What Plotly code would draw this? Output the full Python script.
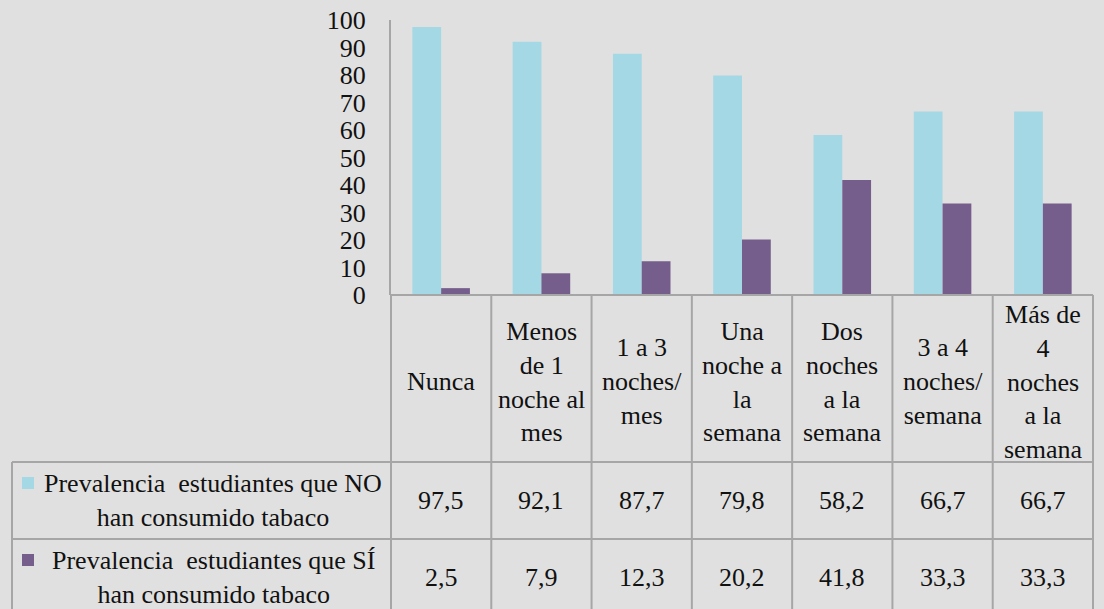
import plotly.graph_objects as go

# Frequency of going out at night
categorias = [
    "Nunca",
    "Menos<br>de 1<br>noche al<br>mes",
    "1 a 3<br>noches/<br>mes",
    "Una<br>noche a<br>la<br>semana",
    "Dos<br>noches<br>a la<br>semana",
    "3 a 4<br>noches/<br>semana",
    "Más de<br>4<br>noches<br>a la<br>semana",
]
serie_no = [97.5, 92.1, 87.7, 79.8, 58.2, 66.7, 66.7]
serie_si = [2.5, 7.9, 12.3, 20.2, 41.8, 33.3, 33.3]
nombres = [
    "Prevalencia  estudiantes que NO<br>han consumido tabaco",
    "Prevalencia  estudiantes que SÍ<br>han consumido tabaco",
]
y_ticks = [0, 10, 20, 30, 40, 50, 60, 70, 80, 90, 100]

W, H = 1104, 609
BG = "#E0E0E0"
AZUL = "#A5D8E5"
MORADO = "#765E8C"
LINEA = "#A6A6A6"
FUENTE = "Times New Roman"
TINTA = "#111111"


def px(x):
    return x / W


def py(y):
    return 1 - y / H


# layout geometry (pixels)
X0, X1 = 391, 1093          # plot / table columns
Y_TOP, Y_ZERO = 20, 295     # value axis
Y_R1, Y_R2, Y_END = 462, 539, 616
X_LEFT = 12

fig = go.Figure()
fig.add_trace(go.Bar(x=categorias, y=serie_no, name=nombres[0], marker_color=AZUL,
                     marker_line_width=0))
fig.add_trace(go.Bar(x=categorias, y=serie_si, name=nombres[1], marker_color=MORADO,
                     marker_line_width=0))

ncat = len(categorias)
col_w = (X1 - X0) / ncat
shapes = []


def line(x0, y0, x1, y1):
    shapes.append(dict(type="line", xref="paper", yref="paper",
                       x0=px(x0), y0=py(y0), x1=px(x1), y1=py(y1),
                       line=dict(color=LINEA, width=2)))


# table grid
line(X0, Y_ZERO, X1, Y_ZERO)
line(X_LEFT, Y_R1, X1, Y_R1)
line(X_LEFT, Y_R2, X1, Y_R2)
line(X_LEFT, Y_R1, X_LEFT, Y_END)
line(X0, Y_ZERO, X0, Y_END)
for i in range(1, ncat + 1):
    xc = X0 + col_w * i
    line(xc, Y_ZERO, xc, Y_END)

# legend keys inside the row headers
for color, yk in [(AZUL, 477), (MORADO, 554)]:
    shapes.append(dict(type="rect", xref="paper", yref="paper",
                       x0=px(22), x1=px(34), y0=py(yk), y1=py(yk + 12),
                       fillcolor=color, line=dict(width=0)))

annotations = []

# column headers
for c in categorias:
    annotations.append(dict(x=c, xref="x", y=py((Y_ZERO + Y_R1) / 2 + 3), yref="paper",
                            text=c, showarrow=False,
                            font=dict(family=FUENTE, size=26, color=TINTA),
                            align="center", xanchor="center", yanchor="middle"))

# data rows
for serie, (ya, yb) in zip([serie_no, serie_si], [(Y_R1, Y_R2), (Y_R2, Y_END)]):
    for c, v in zip(categorias, serie):
        annotations.append(dict(x=c, xref="x", y=py((ya + yb) / 2), yref="paper",
                                text=f"{v:.1f}".replace(".", ","), showarrow=False,
                                font=dict(family=FUENTE, size=26, color=TINTA),
                                xanchor="center", yanchor="middle"))

# row headers
for nombre, (ya, yb) in zip(nombres, [(Y_R1, Y_R2), (Y_R2, Y_END)]):
    annotations.append(dict(x=px(213), xref="paper", y=py((ya + yb) / 2), yref="paper",
                            text=nombre, showarrow=False,
                            font=dict(family=FUENTE, size=26, color=TINTA),
                            align="center", xanchor="center", yanchor="middle"))

fig.update_layout(
    width=W, height=H,
    margin=dict(l=0, r=0, t=0, b=0, pad=0),
    paper_bgcolor=BG, plot_bgcolor=BG,
    barmode="group", bargap=0.426, bargroupgap=0,
    showlegend=False,
    shapes=shapes, annotations=annotations,
    xaxis=dict(domain=[px(X0), px(X1)], showticklabels=False, showgrid=False,
               zeroline=False, showline=False, ticks="", automargin=False),
    yaxis=dict(domain=[py(Y_ZERO), py(Y_TOP)], range=[0, 100], tickvals=y_ticks,
               showgrid=False, zeroline=False, showline=True, linecolor=LINEA,
               linewidth=2, ticks="", ticklabelstandoff=18, automargin=False,
               tickfont=dict(family=FUENTE, size=26, color=TINTA)),
)

fig.write_html("out.html")
